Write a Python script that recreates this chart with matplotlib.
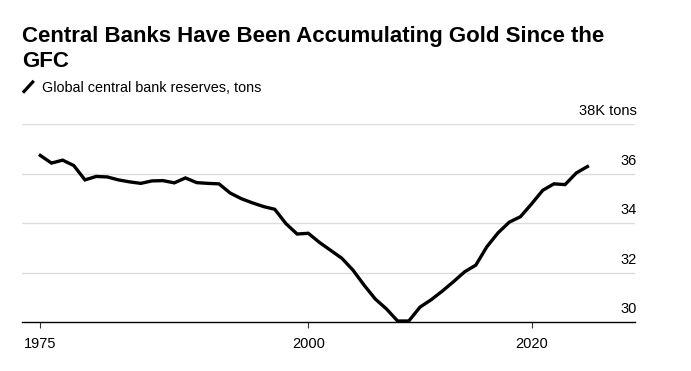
import matplotlib
matplotlib.use("Agg")
import matplotlib.pyplot as plt
import matplotlib.transforms as mtransforms
from matplotlib.lines import Line2D
import numpy as np

# Global central bank gold reserves (thousand tons), year-end values
annees = list(range(1975, 2025))
reserves = [
    36.74, 36.43, 36.55, 36.33, 35.75, 35.89, 35.87, 35.75, 35.67, 35.61,
    35.71, 35.72, 35.63, 35.83, 35.64, 35.61, 35.59, 35.22, 34.99, 34.82,
    34.67, 34.56, 33.98, 33.56, 33.59, 33.22, 32.90, 32.58, 32.10, 31.49,
    30.93, 30.53, 30.04, 30.04, 30.60, 30.90, 31.25, 31.63, 32.03, 32.30,
    33.05, 33.61, 34.04, 34.26, 34.78, 35.33, 35.59, 35.56, 36.03, 36.29,
]
yticks = [30, 32, 34, 36, 38]
ytick_labels = ["30", "32", "34", "36", "38K tons"]
xtick_labels = ["1975", "2000", "2020"]

plt.rcParams["font.family"] = ["Liberation Sans", "DejaVu Sans"]

fig = plt.figure(figsize=(6.91, 3.71), dpi=100)
W, H = 691, 371
ax = fig.add_axes([22 / W, 1 - 322 / H, (635 - 22) / W, (322 - 124.3) / H])

# positions en fin d'année
x = np.array(annees) + 1.0
ax.plot(x, reserves, color="black", lw=2.4, solid_joinstyle="miter", zorder=3,
        clip_on=False)

ax.set_xlim(1974.36, 2029.26)
ax.set_ylim(30, 38)

for v in yticks[1:]:
    ax.axhline(v, color="#dcdcdc", lw=1, zorder=1)

for s in ["top", "left", "right"]:
    ax.spines[s].set_visible(False)
ax.spines["bottom"].set_color("black")
ax.spines["bottom"].set_linewidth(1)

ax.set_xticks([x[0], 2000, 2020])
ax.set_xticklabels(xtick_labels)
ax.tick_params(axis="x", length=4, width=0.8, color="#333333", pad=7,
               labelsize=10.5, labelcolor="black")

ax.yaxis.tick_right()
ax.set_yticks(yticks)
ax.set_yticklabels(ytick_labels)
ax.tick_params(axis="y", length=0, pad=1, labelsize=10.5, labelcolor="black")
offset = mtransforms.ScaledTranslation(0, 9 / 100, fig.dpi_scale_trans)
for lab in ax.get_yticklabels():
    lab.set_horizontalalignment("right")
    lab.set_verticalalignment("baseline")
    lab.set_transform(lab.get_transform() + offset)

fig.text(22 / W, 1 - 41.7 / H, "Central Banks Have Been Accumulating Gold Since the",
         fontsize=16, fontweight="bold", va="baseline", ha="left")
fig.text(22 / W, 1 - 67.3 / H, "GFC",
         fontsize=16, fontweight="bold", va="baseline", ha="left")
fig.text(41.7 / W, 1 - 91.7 / H, "Global central bank reserves, tons",
         fontsize=10.4, va="baseline", ha="left")
fig.add_artist(Line2D([24 / W, 32.7 / W], [1 - 91.5 / H, 1 - 82 / H],
                      transform=fig.transFigure, color="black", lw=2.3))

fig.savefig("out.png", dpi=100)
